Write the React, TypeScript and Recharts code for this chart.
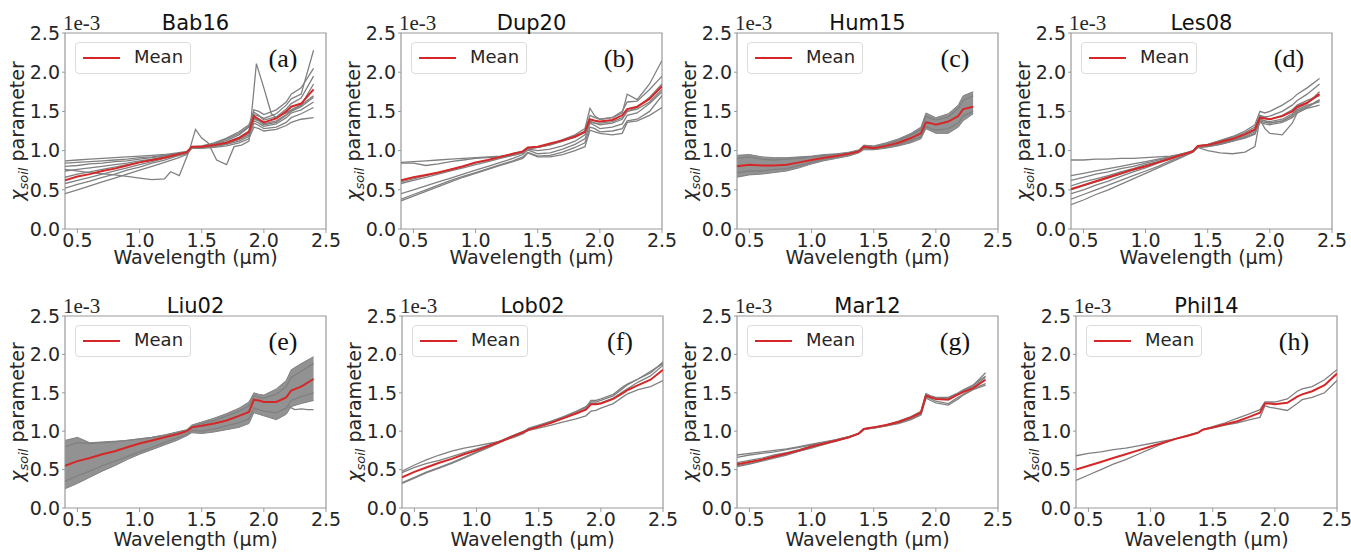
import React from 'react';
import { Area, ComposedChart, Line, ReferenceArea, XAxis, YAxis } from 'recharts';

// wavelength grid (µm) shared by all panels; each series is cut to its own length
const wavelengths = [0.4, 0.5, 0.6, 0.7, 0.8, 0.9, 1.0, 1.1, 1.2, 1.3, 1.38, 1.42, 1.5, 1.6, 1.7, 1.8, 1.88, 1.92, 1.96, 2.0, 2.1, 2.18, 2.22, 2.3, 2.4, 2.5];
const xTicks = [0.5, 1.0, 1.5, 2.0, 2.5];
const yTicks = [0, 0.5, 1.0, 1.5, 2.0, 2.5];

// (a) Bab16
const bab16Mean = [0.62, 0.67, 0.70, 0.74, 0.77, 0.81, 0.85, 0.88, 0.91, 0.95, 0.98, 1.05, 1.05, 1.07, 1.10, 1.16, 1.24, 1.44, 1.40, 1.36, 1.41, 1.50, 1.56, 1.60, 1.78];
const bab16Gray = [
  [0.87, 0.88, 0.89, 0.90, 0.91, 0.92, 0.93, 0.94, 0.95, 0.97, 0.99, 1.04, 1.05, 1.08, 1.13, 1.20, 1.30, 1.52, 1.50, 1.46, 1.52, 1.62, 1.72, 1.80, 2.05],
  [0.84, 0.85, 0.86, 0.87, 0.88, 0.89, 0.91, 0.92, 0.94, 0.96, 0.98, 1.04, 1.05, 1.09, 1.15, 1.22, 1.31, 1.46, 1.44, 1.41, 1.47, 1.58, 1.66, 1.72, 2.28],
  [0.80, 0.81, 0.83, 0.84, 0.86, 0.87, 0.89, 0.91, 0.93, 0.96, 0.98, 1.05, 1.06, 1.10, 1.16, 1.24, 1.33, 1.49, 1.45, 1.39, 1.43, 1.53, 1.60, 1.67, 1.95],
  [0.74, 0.76, 0.78, 0.80, 0.82, 0.84, 0.87, 0.89, 0.92, 0.95, 0.98, 1.04, 1.04, 1.07, 1.11, 1.17, 1.25, 1.40, 1.38, 1.34, 1.38, 1.46, 1.52, 1.58, 1.85],
  [0.66, 0.70, 0.73, 0.76, 0.79, 0.82, 0.85, 0.88, 0.91, 0.94, 0.97, 1.04, 1.04, 1.06, 1.10, 1.15, 1.22, 1.42, 1.38, 1.33, 1.36, 1.45, 1.50, 1.56, 1.68],
  [0.58, 0.62, 0.66, 0.70, 0.74, 0.78, 0.82, 0.86, 0.90, 0.94, 0.97, 1.04, 1.04, 1.05, 1.09, 1.14, 1.20, 1.38, 1.35, 1.31, 1.34, 1.42, 1.48, 1.52, 1.62],
  [0.52, 0.57, 0.61, 0.66, 0.70, 0.75, 0.79, 0.84, 0.88, 0.93, 0.96, 1.04, 1.04, 1.05, 1.08, 1.12, 1.18, 1.35, 1.32, 1.28, 1.30, 1.36, 1.42, 1.47, 1.55],
  [0.45, 0.50, 0.55, 0.60, 0.65, 0.70, 0.75, 0.80, 0.85, 0.90, 0.95, 1.03, 1.03, 1.04, 1.06, 1.10, 1.15, 1.30, 1.28, 1.25, 1.27, 1.32, 1.36, 1.40, 1.42],
];
const bab16OutlierX = [0.4, 0.6, 0.8, 0.9, 1.0, 1.1, 1.2, 1.25, 1.32, 1.4, 1.45, 1.5, 1.55, 1.62, 1.7, 1.76, 1.82, 1.88, 1.94, 2.0, 2.06, 2.1, 2.2, 2.3, 2.4];
const bab16OutlierY = [0.76, 0.72, 0.69, 0.67, 0.65, 0.63, 0.64, 0.73, 0.68, 1.00, 1.27, 1.16, 1.10, 0.88, 0.82, 1.05, 1.07, 1.12, 2.11, 1.80, 1.47, 1.42, 1.50, 1.58, 1.70];

// (b) Dup20
const dup20Mean = [0.62, 0.66, 0.69, 0.72, 0.76, 0.80, 0.85, 0.88, 0.92, 0.96, 0.99, 1.04, 1.05, 1.09, 1.13, 1.18, 1.24, 1.40, 1.38, 1.37, 1.39, 1.45, 1.53, 1.56, 1.66, 1.82];
const dup20Gray = [
  [0.85, 0.86, 0.87, 0.88, 0.89, 0.90, 0.91, 0.92, 0.93, 0.95, 0.98, 1.03, 1.04, 1.08, 1.14, 1.20, 1.28, 1.54, 1.44, 1.40, 1.42, 1.48, 1.72, 1.65, 1.85, 2.15],
  [0.84, 0.84, 0.81, 0.83, 0.86, 0.88, 0.90, 0.91, 0.92, 0.94, 0.97, 1.03, 1.04, 1.07, 1.12, 1.18, 1.25, 1.45, 1.42, 1.40, 1.42, 1.50, 1.62, 1.63, 1.78, 1.95],
  [0.60, 0.64, 0.68, 0.72, 0.76, 0.80, 0.84, 0.88, 0.92, 0.96, 0.99, 1.03, 1.04, 1.08, 1.12, 1.17, 1.23, 1.36, 1.35, 1.35, 1.37, 1.42, 1.50, 1.53, 1.62, 1.78],
  [0.58, 0.62, 0.66, 0.70, 0.74, 0.78, 0.82, 0.86, 0.90, 0.94, 0.97, 1.02, 1.00, 1.02, 1.06, 1.12, 1.20, 1.38, 1.35, 1.33, 1.35, 1.40, 1.50, 1.55, 1.68, 1.85],
  [0.45, 0.50, 0.55, 0.60, 0.65, 0.70, 0.75, 0.80, 0.85, 0.90, 0.95, 1.01, 0.96, 0.97, 1.02, 1.08, 1.15, 1.35, 1.32, 1.28, 1.30, 1.34, 1.45, 1.48, 1.60, 1.75],
  [0.38, 0.44, 0.50, 0.56, 0.62, 0.67, 0.72, 0.77, 0.82, 0.87, 0.92, 0.98, 0.93, 0.94, 0.98, 1.04, 1.10, 1.30, 1.28, 1.24, 1.25, 1.28, 1.38, 1.40, 1.50, 1.70],
  [0.36, 0.42, 0.48, 0.54, 0.60, 0.66, 0.71, 0.76, 0.81, 0.86, 0.90, 0.97, 0.92, 0.92, 0.95, 1.00, 1.05, 1.26, 1.24, 1.22, 1.20, 1.22, 1.36, 1.38, 1.45, 1.55],
];

// (c) Hum15
const hum15Mean = [0.80, 0.82, 0.81, 0.81, 0.82, 0.85, 0.88, 0.91, 0.93, 0.96, 0.99, 1.05, 1.03, 1.06, 1.10, 1.16, 1.22, 1.36, 1.35, 1.33, 1.37, 1.44, 1.53, 1.56];
const hum15Low = [0.66, 0.69, 0.70, 0.72, 0.74, 0.78, 0.83, 0.87, 0.90, 0.93, 0.97, 1.01, 1.01, 1.03, 1.06, 1.10, 1.15, 1.28, 1.25, 1.22, 1.22, 1.30, 1.38, 1.47];
const hum15High = [0.94, 0.95, 0.92, 0.91, 0.91, 0.92, 0.93, 0.95, 0.96, 0.98, 1.01, 1.07, 1.06, 1.10, 1.15, 1.22, 1.30, 1.48, 1.45, 1.42, 1.47, 1.58, 1.70, 1.75];
const hum15Gray = [
  [0.90, 0.92, 0.89, 0.88, 0.89, 0.90, 0.92, 0.94, 0.95, 0.97, 1.00, 1.06, 1.05, 1.08, 1.13, 1.20, 1.27, 1.44, 1.41, 1.39, 1.43, 1.54, 1.64, 1.70],
  [0.72, 0.74, 0.74, 0.76, 0.77, 0.81, 0.85, 0.89, 0.92, 0.95, 0.98, 1.03, 1.02, 1.04, 1.08, 1.13, 1.18, 1.31, 1.28, 1.26, 1.28, 1.35, 1.44, 1.50],
];

// (d) Les08
const les08Mean = [0.51, 0.56, 0.61, 0.66, 0.71, 0.76, 0.80, 0.85, 0.90, 0.95, 0.99, 1.06, 1.07, 1.11, 1.15, 1.21, 1.27, 1.42, 1.41, 1.40, 1.44, 1.50, 1.56, 1.61, 1.72];
const les08Gray = [
  [0.68, 0.71, 0.74, 0.77, 0.80, 0.83, 0.86, 0.89, 0.92, 0.95, 0.99, 1.05, 1.08, 1.13, 1.18, 1.25, 1.33, 1.50, 1.48, 1.50, 1.58, 1.66, 1.72, 1.80, 1.92],
  [0.62, 0.66, 0.70, 0.73, 0.77, 0.80, 0.84, 0.88, 0.92, 0.96, 1.00, 1.06, 1.08, 1.12, 1.17, 1.23, 1.30, 1.45, 1.43, 1.44, 1.50, 1.58, 1.64, 1.72, 1.85],
  [0.55, 0.60, 0.64, 0.68, 0.73, 0.77, 0.82, 0.86, 0.91, 0.95, 0.99, 1.05, 1.07, 1.10, 1.14, 1.20, 1.26, 1.40, 1.38, 1.37, 1.40, 1.47, 1.54, 1.60, 1.75],
  [0.45, 0.50, 0.56, 0.61, 0.67, 0.73, 0.78, 0.84, 0.89, 0.95, 0.99, 1.05, 1.06, 1.09, 1.13, 1.18, 1.24, 1.38, 1.36, 1.35, 1.38, 1.44, 1.50, 1.56, 1.65],
  [0.38, 0.44, 0.50, 0.56, 0.62, 0.68, 0.74, 0.80, 0.87, 0.93, 0.98, 1.04, 1.05, 1.08, 1.12, 1.17, 1.22, 1.36, 1.34, 1.33, 1.36, 1.42, 1.48, 1.54, 1.58],
  [0.31, 0.37, 0.44, 0.50, 0.57, 0.64, 0.71, 0.78, 0.85, 0.92, 0.98, 1.04, 1.05, 1.08, 1.12, 1.16, 1.21, 1.40, 1.38, 1.35, 1.38, 1.45, 1.52, 1.58, 1.62],
  [0.88, 0.88, 0.89, 0.89, 0.90, 0.90, 0.91, 0.92, 0.93, 0.96, 0.99, 1.05, 1.06, 1.10, 1.14, 1.20, 1.26, 1.44, 1.42, 1.40, 1.45, 1.52, 1.58, 1.64, 1.70],
  [0.50, 0.55, 0.60, 0.65, 0.70, 0.75, 0.80, 0.85, 0.90, 0.95, 0.99, 1.04, 1.00, 0.97, 0.96, 0.98, 1.05, 1.40, 1.28, 1.22, 1.20, 1.35, 1.48, 1.55, 1.64],
];

// (e) Liu02
const liu02Mean = [0.55, 0.61, 0.65, 0.70, 0.74, 0.79, 0.84, 0.88, 0.92, 0.96, 1.00, 1.05, 1.07, 1.10, 1.14, 1.20, 1.25, 1.41, 1.40, 1.38, 1.38, 1.44, 1.53, 1.58, 1.68];
const liu02Low = [0.25, 0.32, 0.40, 0.48, 0.55, 0.63, 0.70, 0.76, 0.82, 0.88, 0.94, 0.98, 0.97, 0.99, 1.02, 1.05, 1.10, 1.24, 1.22, 1.20, 1.15, 1.22, 1.32, 1.36, 1.40];
const liu02High = [0.88, 0.92, 0.85, 0.86, 0.87, 0.88, 0.90, 0.92, 0.95, 0.99, 1.02, 1.08, 1.12, 1.17, 1.23, 1.30, 1.38, 1.50, 1.48, 1.47, 1.55, 1.66, 1.80, 1.88, 1.97];
const liu02Gray = [
  [0.80, 0.85, 0.84, 0.85, 0.86, 0.88, 0.90, 0.92, 0.95, 0.98, 1.01, 1.06, 1.10, 1.14, 1.20, 1.26, 1.33, 1.46, 1.44, 1.43, 1.48, 1.58, 1.70, 1.78, 1.88],
  [0.35, 0.42, 0.48, 0.55, 0.61, 0.67, 0.73, 0.79, 0.85, 0.91, 0.96, 1.01, 1.00, 1.03, 1.07, 1.11, 1.16, 1.30, 1.28, 1.26, 1.24, 1.30, 1.40, 1.45, 1.50],
];
const liu02OutlierX = [2.2, 2.25, 2.3, 2.35, 2.4];
const liu02OutlierY = [1.32, 1.28, 1.29, 1.28, 1.28];

// (f) Lob02
const lob02Mean = [0.40, 0.47, 0.53, 0.59, 0.64, 0.70, 0.75, 0.81, 0.87, 0.94, 0.99, 1.02, 1.06, 1.11, 1.17, 1.23, 1.28, 1.35, 1.35, 1.36, 1.42, 1.50, 1.54, 1.60, 1.67, 1.80];
const lob02Gray = [
  [0.48, 0.56, 0.63, 0.69, 0.74, 0.78, 0.81, 0.84, 0.87, 0.92, 0.97, 1.03, 1.07, 1.12, 1.18, 1.25, 1.31, 1.40, 1.40, 1.42, 1.48, 1.58, 1.62, 1.68, 1.76, 1.90],
  [0.46, 0.53, 0.58, 0.62, 0.67, 0.72, 0.77, 0.82, 0.88, 0.95, 1.00, 1.04, 1.08, 1.13, 1.19, 1.26, 1.32, 1.38, 1.38, 1.40, 1.46, 1.56, 1.61, 1.68, 1.78, 1.88],
  [0.33, 0.40, 0.47, 0.53, 0.59, 0.66, 0.73, 0.80, 0.87, 0.94, 0.99, 1.02, 1.06, 1.11, 1.17, 1.23, 1.29, 1.36, 1.36, 1.37, 1.43, 1.52, 1.56, 1.64, 1.72, 1.86],
  [0.32, 0.39, 0.46, 0.52, 0.58, 0.65, 0.72, 0.79, 0.86, 0.93, 0.98, 1.01, 1.04, 1.08, 1.12, 1.16, 1.20, 1.26, 1.27, 1.30, 1.36, 1.45, 1.49, 1.54, 1.58, 1.66],
];

// (g) Mar12
const mar12Mean = [0.57, 0.60, 0.63, 0.67, 0.71, 0.75, 0.80, 0.84, 0.88, 0.92, 0.97, 1.03, 1.05, 1.08, 1.12, 1.18, 1.24, 1.46, 1.44, 1.42, 1.41, 1.48, 1.51, 1.56, 1.67];
const mar12Gray = [
  [0.69, 0.71, 0.73, 0.75, 0.77, 0.80, 0.83, 0.86, 0.89, 0.93, 0.97, 1.03, 1.05, 1.08, 1.12, 1.18, 1.24, 1.48, 1.45, 1.43, 1.42, 1.48, 1.52, 1.58, 1.70],
  [0.66, 0.69, 0.71, 0.73, 0.76, 0.79, 0.82, 0.85, 0.88, 0.92, 0.97, 1.03, 1.05, 1.08, 1.12, 1.18, 1.24, 1.47, 1.44, 1.42, 1.43, 1.49, 1.53, 1.60, 1.76],
  [0.55, 0.58, 0.62, 0.66, 0.70, 0.74, 0.79, 0.83, 0.88, 0.92, 0.97, 1.03, 1.04, 1.07, 1.11, 1.16, 1.22, 1.45, 1.42, 1.39, 1.36, 1.44, 1.48, 1.55, 1.62],
  [0.54, 0.57, 0.61, 0.65, 0.69, 0.74, 0.78, 0.83, 0.87, 0.92, 0.96, 1.02, 1.04, 1.07, 1.10, 1.15, 1.21, 1.43, 1.40, 1.37, 1.34, 1.42, 1.47, 1.54, 1.60],
  [0.59, 0.62, 0.65, 0.69, 0.72, 0.76, 0.81, 0.85, 0.89, 0.93, 0.97, 1.03, 1.05, 1.08, 1.13, 1.19, 1.26, 1.49, 1.46, 1.44, 1.44, 1.50, 1.54, 1.60, 1.72],
];

// (h) Phil14
const phil14Mean = [0.50, 0.55, 0.60, 0.65, 0.70, 0.75, 0.80, 0.85, 0.90, 0.94, 0.98, 1.02, 1.05, 1.09, 1.13, 1.19, 1.24, 1.36, 1.36, 1.35, 1.37, 1.45, 1.48, 1.52, 1.60, 1.75];
const phil14Gray = [
  [0.68, 0.71, 0.73, 0.76, 0.78, 0.81, 0.84, 0.87, 0.90, 0.94, 0.98, 1.02, 1.06, 1.11, 1.17, 1.23, 1.28, 1.38, 1.38, 1.38, 1.42, 1.52, 1.55, 1.58, 1.67, 1.80],
  [0.36, 0.43, 0.50, 0.57, 0.63, 0.70, 0.77, 0.84, 0.90, 0.95, 0.98, 1.02, 1.04, 1.08, 1.11, 1.15, 1.18, 1.33, 1.31, 1.30, 1.27, 1.36, 1.41, 1.44, 1.50, 1.66],
];

type Extra = { x: number[]; y: number[] };
type Panel = {
  name: string;
  letter: string;
  mean: number[];
  grays: number[][];
  extras?: Extra[];
  band?: [number[], number[]];
};

const panels: Panel[] = [
  { name: 'Bab16', letter: '(a)', mean: bab16Mean, grays: bab16Gray, extras: [{ x: bab16OutlierX, y: bab16OutlierY }] },
  { name: 'Dup20', letter: '(b)', mean: dup20Mean, grays: dup20Gray },
  { name: 'Hum15', letter: '(c)', mean: hum15Mean, grays: hum15Gray, band: [hum15Low, hum15High] },
  { name: 'Les08', letter: '(d)', mean: les08Mean, grays: les08Gray },
  { name: 'Liu02', letter: '(e)', mean: liu02Mean, grays: liu02Gray, band: [liu02Low, liu02High], extras: [{ x: liu02OutlierX, y: liu02OutlierY }] },
  { name: 'Lob02', letter: '(f)', mean: lob02Mean, grays: lob02Gray },
  { name: 'Mar12', letter: '(g)', mean: mar12Mean, grays: mar12Gray },
  { name: 'Phil14', letter: '(h)', mean: phil14Mean, grays: phil14Gray },
];

const PLOT_LEFT = [
  [65, 401, 737, 1071],
  [65, 402, 737, 1076],
];
const ROW_TOP = [33, 316];
const ROW_H = [196, 192];
const PLOT_W = 261;
const M_LEFT = 65;
const M_RIGHT = 20;
const X_AXIS_H = 46;

const SANS = '"DejaVu Sans", sans-serif';
const SERIF = '"Liberation Serif", "DejaVu Serif", serif';
const GRAY = '#808080';
const BAND = '#8c8c8c';
const RED = '#d62728';
const SPINE = '#9a9a9a';
const TEXT = '#262626';

const toPoints = (ys: number[], xs: number[] = wavelengths) => ys.map((y, i) => ({ x: xs[i], y }));

function PanelChart({ panel, row, col }: { panel: Panel; row: number; col: number }) {
  const left = PLOT_LEFT[row][col];
  const top = ROW_TOP[row];
  const plotH = ROW_H[row];
  const width = M_LEFT + PLOT_W + M_RIGHT;
  const height = top + plotH + X_AXIS_H;
  const bandData = panel.band
    ? panel.band[0].map((lo, i) => ({ x: wavelengths[i], band: [lo, panel.band![1][i]] }))
    : null;
  const tickStyle = { fontFamily: SANS, fontSize: 19, fill: TEXT };

  return (
    <div style={{ position: 'absolute', left: left - M_LEFT, top: 0 }}>
      <ComposedChart width={width} height={height} margin={{ top, right: M_RIGHT, bottom: 0, left: 0 }}>
        <XAxis
          type="number"
          dataKey="x"
          domain={[0.4, 2.5]}
          ticks={xTicks}
          allowDataOverflow
          height={X_AXIS_H}
          tickFormatter={(v: number) => v.toFixed(1)}
          tick={tickStyle}
          tickSize={4}
          tickMargin={1}
          axisLine={false}
          tickLine={{ stroke: SPINE }}
        />
        <YAxis
          type="number"
          domain={[0, 2.5]}
          ticks={yTicks}
          allowDataOverflow
          width={M_LEFT}
          tickFormatter={(v: number) => v.toFixed(1)}
          tick={tickStyle}
          tickSize={3}
          tickMargin={2}
          axisLine={false}
          tickLine={{ stroke: SPINE }}
        />
        {bandData && (
          <Area
            data={bandData}
            dataKey="band"
            type="linear"
            stroke={GRAY}
            strokeWidth={1}
            fill={BAND}
            fillOpacity={0.95}
            isAnimationActive={false}
          />
        )}
        {panel.grays.map((g, i) => (
          <Line
            key={`g${i}`}
            data={toPoints(g)}
            dataKey="y"
            type="linear"
            stroke={GRAY}
            strokeWidth={1.3}
            dot={false}
            isAnimationActive={false}
          />
        ))}
        {(panel.extras || []).map((e, i) => (
          <Line
            key={`e${i}`}
            data={toPoints(e.y, e.x)}
            dataKey="y"
            type="linear"
            stroke={GRAY}
            strokeWidth={1.3}
            dot={false}
            isAnimationActive={false}
          />
        ))}
        <Line
          data={toPoints(panel.mean)}
          dataKey="y"
          name="Mean"
          type="linear"
          stroke={RED}
          strokeWidth={2}
          dot={false}
          isAnimationActive={false}
        />
        <ReferenceArea x1={0.4} x2={2.5} y1={0} y2={2.5} fill="none" stroke={SPINE} strokeWidth={1.2} ifOverflow="visible" />
      </ComposedChart>
      {/* legend */}
      <div
        style={{
          position: 'absolute',
          left: M_LEFT + 10,
          top: top + 9,
          width: 114,
          height: 30,
          border: '1px solid #dcdcdc',
          borderRadius: 4,
          background: 'rgba(255,255,255,0.85)',
        }}
      >
        <div style={{ position: 'absolute', left: 7, top: 14, width: 37, height: 2, background: RED }} />
        <div style={{ position: 'absolute', left: 58, top: 3, fontFamily: SANS, fontSize: 18, color: TEXT, lineHeight: '22px' }}>
          Mean
        </div>
      </div>
    </div>
  );
}

function Labels() {
  return (
    <svg width={1351} height={555} style={{ position: 'absolute', left: 0, top: 0, pointerEvents: 'none' }}>
      {panels.map((p, idx) => {
        const row = Math.floor(idx / 4);
        const col = idx % 4;
        const left = PLOT_LEFT[row][col];
        const top = ROW_TOP[row];
        const h = ROW_H[row];
        const cx = left + PLOT_W / 2;
        return (
          <g key={p.name}>
            <text x={cx} y={top - 3} textAnchor="middle" fontFamily={SANS} fontSize={21} fill="#111">
              {p.name}
            </text>
            <text x={left - 2} y={top - 3} fontFamily={SERIF} fontSize={21} fill={TEXT}>
              1e-3
            </text>
            <text x={left + PLOT_W - 43} y={top + 34} textAnchor="middle" fontFamily={SERIF} fontSize={26} fill="#111">
              {p.letter}
            </text>
            <text x={cx} y={top + h + (row === 0 ? 35 : 38)} textAnchor="middle" fontFamily={SANS} fontSize={19} fill={TEXT}>
              Wavelength (µm)
            </text>
            <text
              transform={`translate(${left - 41}, ${top + h / 2}) rotate(-90)`}
              textAnchor="middle"
              fontFamily={SANS}
              fontSize={19}
              fill={TEXT}
            >
              <tspan fontStyle="italic">χ</tspan>
              <tspan fontStyle="italic" fontSize={13} dy={4}>soil</tspan>
              <tspan dy={-4}> parameter</tspan>
            </text>
          </g>
        );
      })}
    </svg>
  );
}

export default function App() {
  return (
    <div style={{ position: 'absolute', left: 0, top: 0, width: 1351, height: 555, background: '#fff' }}>
      {panels.map((p, idx) => (
        <PanelChart key={p.name} panel={p} row={Math.floor(idx / 4)} col={idx % 4} />
      ))}
      <Labels />
    </div>
  );
}
